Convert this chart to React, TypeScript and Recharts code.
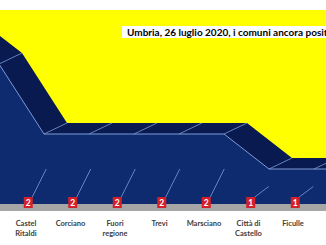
import React from 'react';
import { ComposedChart, Area, Bar, XAxis, YAxis, CartesianGrid, ReferenceArea, LabelList } from 'recharts';

// ---- data ----
const categories = ['Castel Ritaldi', 'Corciano', 'Fuori regione', 'Trevi', 'Marsciano', 'Città di Castello', 'Ficulle'];
const tickLabels = ['Castel\nRitaldi', 'Corciano', 'Fuori\nregione', 'Trevi', 'Marsciano', 'Città di\nCastello', 'Ficulle'];
const positivi = [2, 2, 2, 2, 2, 1, 1];
// columns whose labels are cut off by the picture's left / right edges
const hiddenLeftValues = [5, 4];
const hiddenRightValues = [1];
const title = 'Umbria, 26 luglio 2020, i comuni ancora positivi';

const data = [
  ...hiddenLeftValues.map((v, k) => ({ idx: k - hiddenLeftValues.length, name: '', value: v })),
  ...positivi.map((v, i) => ({ idx: i, name: categories[i], value: v })),
  ...hiddenRightValues.map((v, k) => ({ idx: positivi.length + k, name: '', value: v })),
];

// ---- layout (pixels) ----
const W = 326;
const H = 245;
const PLOT_TOP = 10;
const PLOT_BOTTOM = 211;
const FLOOR_Y = 204;
const UNIT = 35;
const STEP = 45;
const FIRST_X = 44;
const LABEL_STEP = 44.5;
const LABEL_FIRST = 26;
const DEPTH_X = 23;
const DEPTH_Y = 11;

const frontX = [-FIRST_X / STEP, (W - FIRST_X) / STEP];
const backX = [frontX[0] - DEPTH_X / STEP, frontX[1] - DEPTH_X / STEP];
const labelX = [-LABEL_FIRST / LABEL_STEP, (W - LABEL_FIRST) / LABEL_STEP];
const frontY = [-(PLOT_BOTTOM - FLOOR_Y) / UNIT, (FLOOR_Y - PLOT_TOP) / UNIT];
const backY = [frontY[0] - DEPTH_Y / UNIT, frontY[1] - DEPTH_Y / UNIT];

const EDGE = '#7f9ad4';
const FRONT = '#0d2b6e';
const ROOF = '#081a50';

const Tick = (props: any) => {
  const { x, payload } = props;
  const lines = (tickLabels[payload.value] ?? '').split('\n');
  const y0 = PLOT_BOTTOM + 15;
  return (
    <g>
      {lines.map((l: string, k: number) => (
        <text
          key={k}
          x={x}
          y={y0 + k * 9.5}
          textAnchor="middle"
          fill="#404040"
          fontFamily="Lato"
          fontWeight={700}
          fontSize={7.5}
        >
          {l}
        </text>
      ))}
    </g>
  );
};

const ValueLabel = (props: any) => {
  const idx = props.index;
  if (idx == null || idx < hiddenLeftValues.length || idx >= hiddenLeftValues.length + positivi.length) return null;
  const vb = props.viewBox ?? props;
  const { x, y, width, height } = vb;
  if (x == null || y == null) return null;
  const cx = x + (width || 0) / 2;
  const floor = y + height;
  const bx = cx + 2;
  return (
    <g>
      <line x1={bx + 4} y1={floor - 7} x2={cx + 20} y2={y + height / 2} stroke={EDGE} strokeWidth={0.8} />
      <rect x={bx - 4.5} y={floor - 7} width={9} height={11} fill="#d3202a" />
      <text x={bx} y={floor + 2} textAnchor="middle" fill="#ffffff" fontFamily="Lato" fontWeight={700} fontSize={8.5}>
        {props.value}
      </text>
    </g>
  );
};

const DepthEdge = (p: any) => {
  if (p.cx == null || p.cy == null) return <g key={p.index} />;
  return (
    <line key={p.index} x1={p.cx} y1={p.cy} x2={p.cx + DEPTH_X} y2={p.cy - DEPTH_Y} stroke={EDGE} strokeWidth={0.8} />
  );
};

export default function App() {
  return (
    <div style={{ position: 'absolute', left: 0, top: 0, width: W, height: H, overflow: 'hidden', background: '#fff' }}>
      <ComposedChart width={W} height={H} data={data} margin={{ top: PLOT_TOP, right: 0, bottom: 0, left: 0 }}>
        <XAxis xAxisId="front" dataKey="idx" type="number" domain={frontX} allowDataOverflow hide />
        <XAxis xAxisId="back" dataKey="idx" type="number" domain={backX} allowDataOverflow hide />
        <XAxis
          xAxisId="labels"
          dataKey="idx"
          type="number"
          domain={labelX}
          allowDataOverflow
          ticks={categories.map((_, i) => i)}
          interval={0}
          tick={(p: any) => <Tick {...p} />}
          tickLine={false}
          axisLine={false}
          tickSize={0}
          tickMargin={0}
          height={H - PLOT_BOTTOM}
        />
        <YAxis yAxisId="front" type="number" domain={frontY} allowDataOverflow hide />
        <YAxis yAxisId="back" type="number" domain={backY} allowDataOverflow hide />
        <CartesianGrid xAxisId="front" yAxisId="front" horizontal={false} vertical={false} fill="#ffff00" fillOpacity={1} stroke="none" />
        <ReferenceArea
          xAxisId="front"
          yAxisId="front"
          x1={frontX[0]}
          x2={frontX[1]}
          y1={frontY[0]}
          y2={0}
          fill="#a6a6a6"
          fillOpacity={1}
          stroke="none"
          ifOverflow="visible"
        />
        <Area
          xAxisId="back"
          yAxisId="back"
          dataKey="value"
          type="linear"
          baseValue={0}
          stroke="none"
          fill={ROOF}
          fillOpacity={1}
          dot={false}
          activeDot={false}
          isAnimationActive={false}
        />
        <Area
          xAxisId="front"
          yAxisId="front"
          dataKey="value"
          type="linear"
          baseValue={0}
          stroke={EDGE}
          strokeWidth={1}
          fill={FRONT}
          fillOpacity={1}
          dot={DepthEdge}
          activeDot={false}
          isAnimationActive={false}
        />
        <Bar xAxisId="labels" yAxisId="front" dataKey="value" barSize={1} fill="none" isAnimationActive={false}>
          <LabelList dataKey="value" content={ValueLabel} />
        </Bar>
      </ComposedChart>
      <div
        style={{
          position: 'absolute',
          left: 122,
          top: 26,
          height: 12,
          lineHeight: '12px',
          paddingLeft: 5,
          paddingRight: 6,
          background: '#ffffff',
          whiteSpace: 'nowrap',
          fontFamily: 'Lato',
          fontWeight: 700,
          fontSize: 10,
          color: '#000',
        }}
      >
        {title}
      </div>
    </div>
  );
}
